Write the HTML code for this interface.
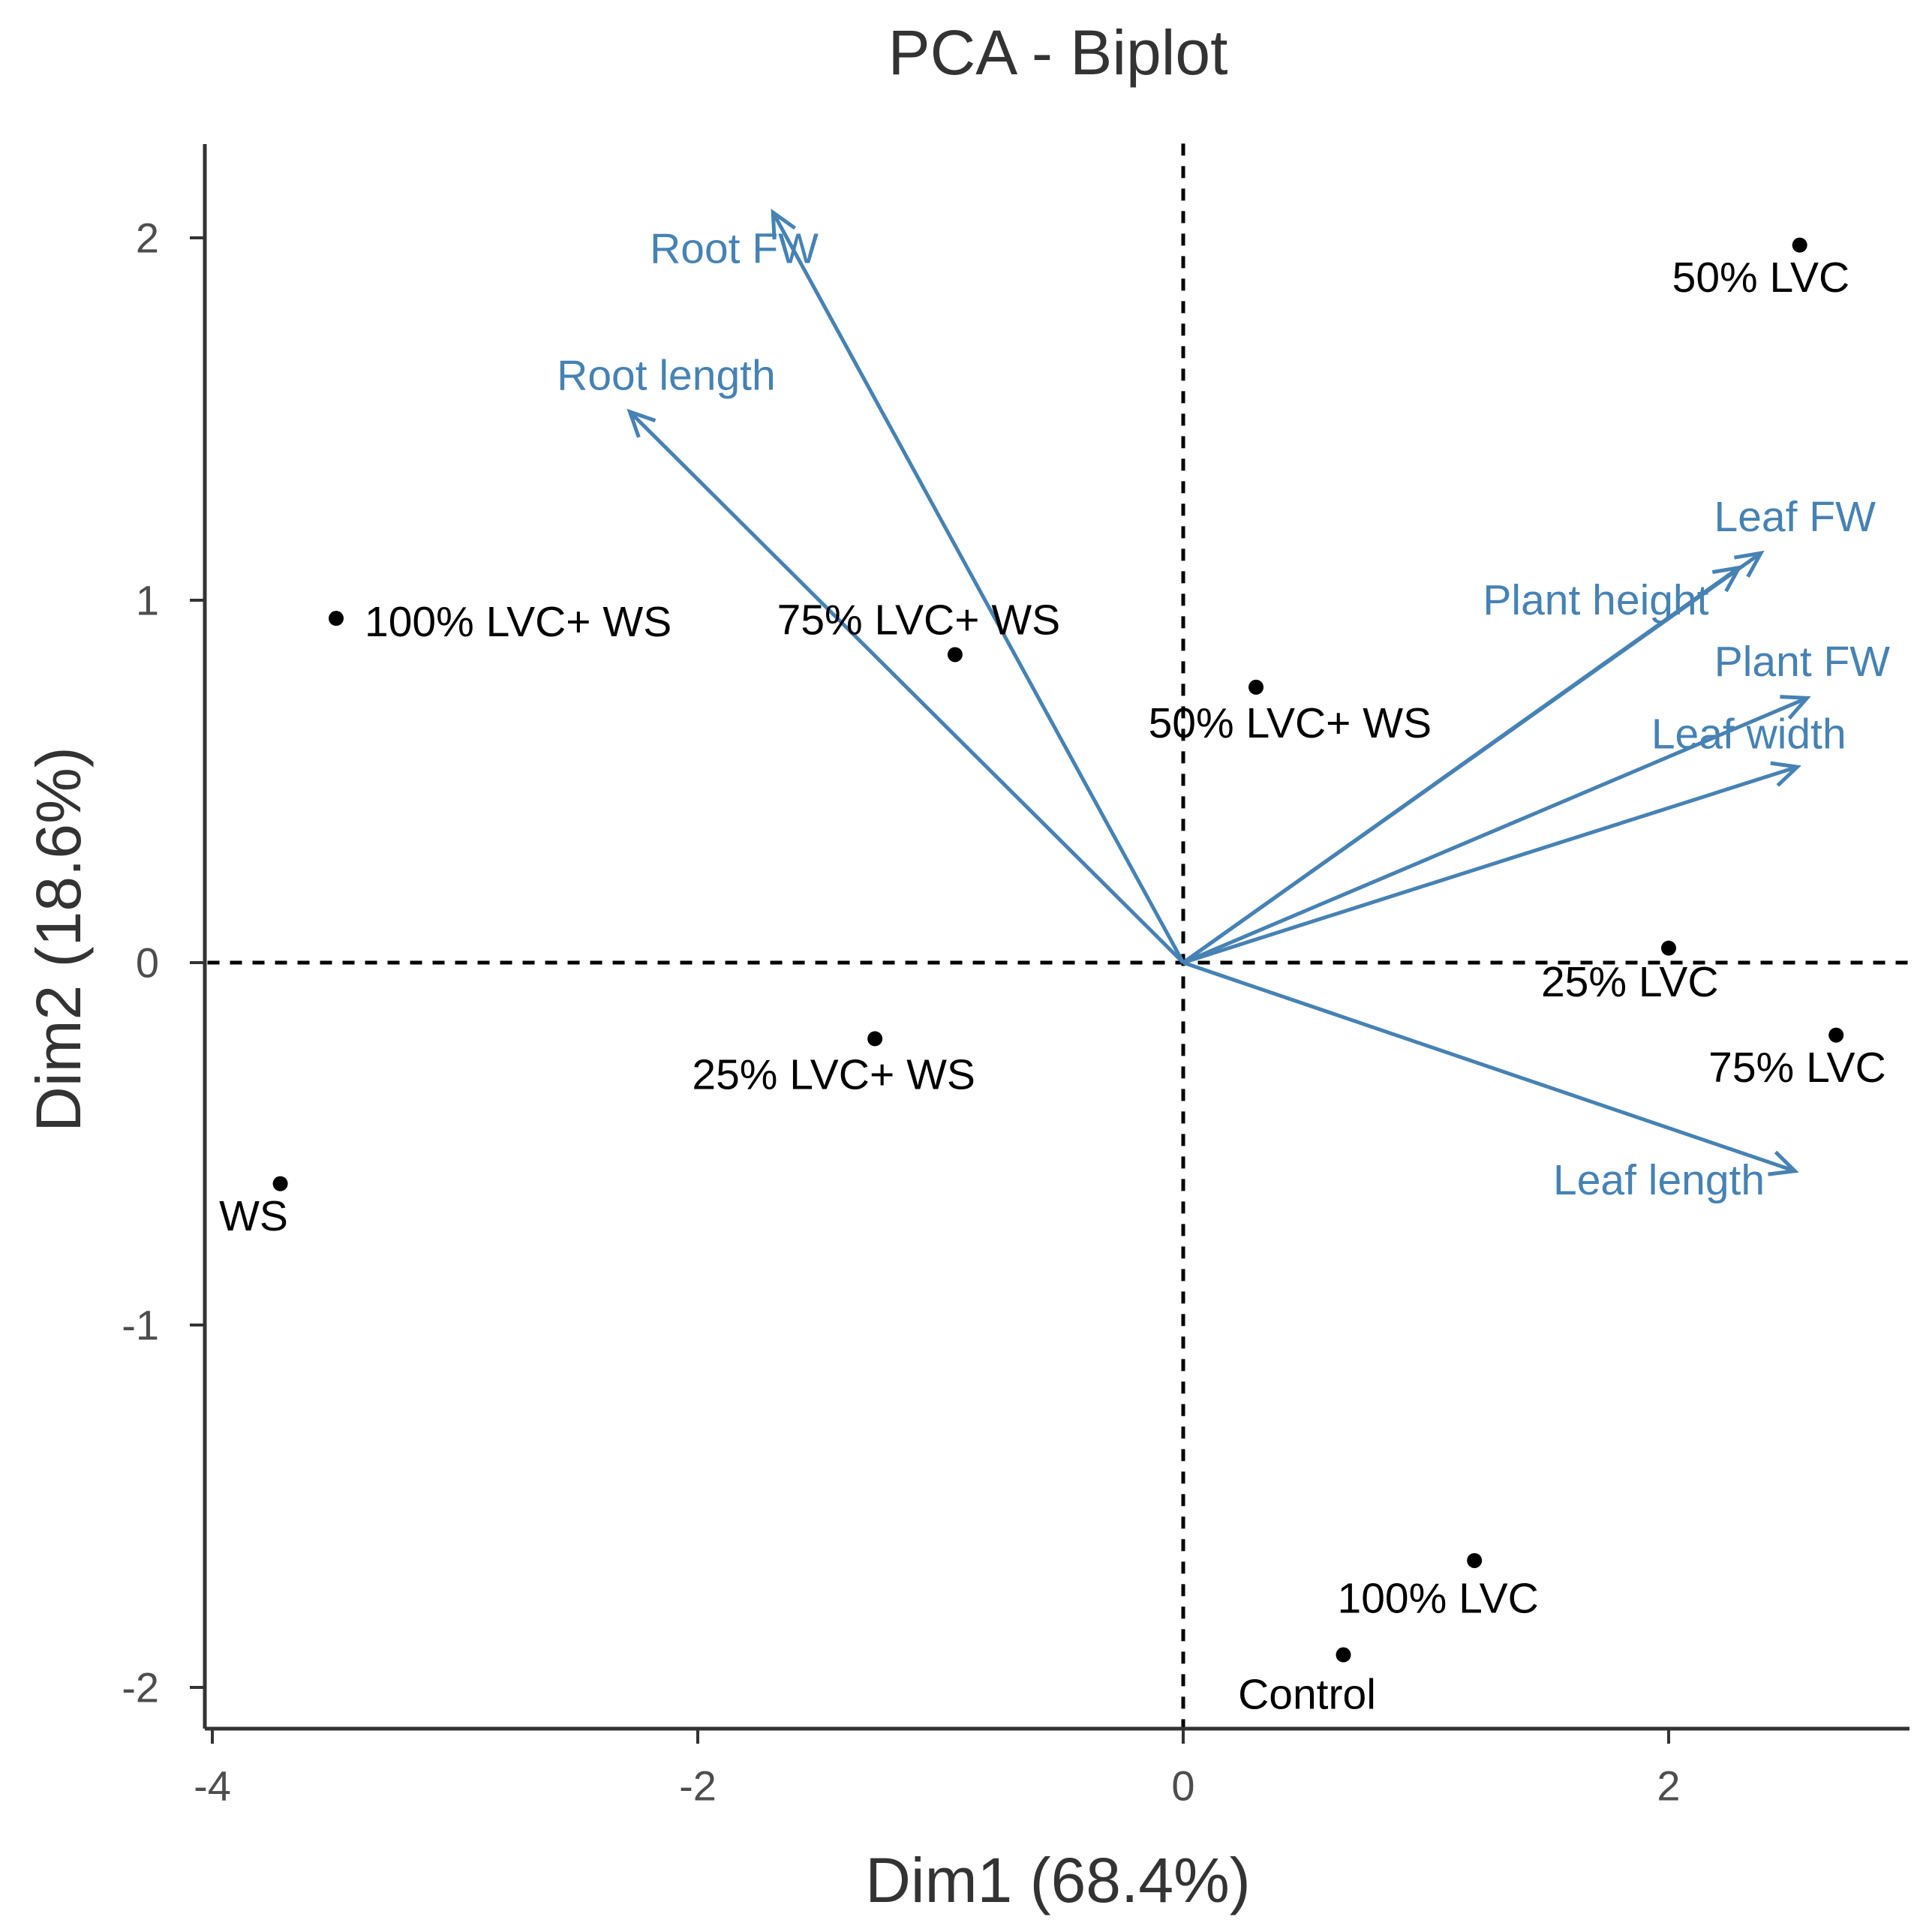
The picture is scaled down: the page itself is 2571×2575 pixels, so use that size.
<!DOCTYPE html>
<html><head><meta charset="utf-8"><style>
html,body{margin:0;padding:0;background:#fff}
svg{display:block;font-family:"Liberation Sans",Arial,sans-serif}
</style></head><body>
<svg id="chart" width="2571" height="2575" viewBox="0 0 2571 2575" xmlns="http://www.w3.org/2000/svg">
<text x="1410" y="70" text-anchor="middle" dominant-baseline="central" font-size="84" fill="#333">PCA - Biplot</text>
<g id="grid"></g>
<g id="arrows"></g>
<g id="points"></g>
<g id="axes"></g>
</svg>
<script>
const pointNames = ["50% LVC","100% LVC+ WS","75% LVC+ WS","50% LVC+ WS","25% LVC","75% LVC","25% LVC+ WS","WS","100% LVC","Control"];
const pointX = [2.54,-3.49,-0.94,0.30,2.00,2.69,-1.27,-3.72,1.20,0.66];
const pointY = [1.98,0.95,0.85,0.76,0.04,-0.20,-0.21,-0.61,-1.65,-1.91];
const pointLabelX = [2.38,-2.74,-1.09,0.44,1.84,2.53,-1.44,-3.83,1.05,0.51];
const pointLabelY = [1.89,0.94,0.945,0.66,-0.054,-0.29,-0.31,-0.70,-1.755,-2.02];
const varNames = ["Root FW","Root length","Leaf FW","Plant height","Plant FW","Leaf width","Leaf length"];
const varX = [-1.69,-2.28,2.38,2.29,2.57,2.53,2.52];
const varY = [2.07,1.52,1.13,1.09,0.73,0.54,-0.575];
const varLabelX = [-1.85,-2.13,2.52,1.70,2.55,2.33,1.96];
const varLabelY = [1.97,1.62,1.23,1.00,0.83,0.63,-0.60];
const xTicks = [-4,-2,0,2];
const yTicks = [-2,-1,0,1,2];

const X0=1577, XU=323.5, Y0=1283, YU=483;
const sx = v => X0 + v*XU;
const sy = v => Y0 - v*YU;
const xMin=-4.02, xMax=2.99, yMin=-2.11, yMax=2.26;
const NS="http://www.w3.org/2000/svg";
function mk(tag, attrs, parent){const e=document.createElementNS(NS,tag);for(const k in attrs)e.setAttribute(k,attrs[k]);parent.appendChild(e);return e;}

const grid=document.getElementById('grid');
let hl=mk('line',{x1:sx(xMin),x2:sx(xMax),y1:sy(0),y2:sy(0),stroke:'#000','stroke-width':5,'stroke-dasharray':'16,14'},grid);


let vl=mk('line',{x1:sx(0),x2:sx(0),y1:sy(yMax),y2:sy(yMin),stroke:'#000','stroke-width':5,'stroke-dasharray':'16,14'},grid);



const ar=document.getElementById('arrows');
varNames.forEach((n,i)=>{
  const x1=sx(0),y1=sy(0),x2=sx(varX[i]),y2=sy(varY[i]);
  const g=mk('g',{},ar);
  
  
  mk('line',{x1,y1,x2,y2,stroke:'#4682B4','stroke-width':5},g);
  const a=Math.atan2(y2-y1,x2-x1), L=36, s=0.45;
  const p1=[x2-L*Math.cos(a-s),y2-L*Math.sin(a-s)], p2=[x2-L*Math.cos(a+s),y2-L*Math.sin(a+s)];
  mk('polyline',{points:`${p1[0]},${p1[1]} ${x2},${y2} ${p2[0]},${p2[1]}`,fill:'none',stroke:'#4682B4','stroke-width':5},g);
  const t=mk('text',{x:sx(varLabelX[i]),y:sy(varLabelY[i]),'text-anchor':'middle','dominant-baseline':'central','font-size':57,fill:'#4682B4'},ar);
  t.textContent=n;
  
  
});

const pg=document.getElementById('points');
pointNames.forEach((n,i)=>{
  const c=mk('circle',{cx:sx(pointX[i]),cy:sy(pointY[i]),r:10,fill:'#000'},pg);
  
  
  const t=mk('text',{x:sx(pointLabelX[i]),y:sy(pointLabelY[i]),'text-anchor':'middle','dominant-baseline':'central','font-size':57,fill:'#000'},pg);
  t.textContent=n;
  
  
});

const ax=document.getElementById('axes');
let xa=mk('line',{x1:273,x2:2545,y1:2304,y2:2304,stroke:'#333','stroke-width':5},ax);


let ya=mk('line',{x1:273,x2:273,y1:192,y2:2304,stroke:'#333','stroke-width':5},ax);


xTicks.forEach(v=>{
  mk('line',{x1:sx(v),x2:sx(v),y1:2304,y2:2324,stroke:'#333','stroke-width':4},ax);
  const t=mk('text',{x:sx(v),y:2380,'text-anchor':'middle','dominant-baseline':'central','font-size':56,fill:'#4d4d4d'},ax);
  t.textContent=v;
  
  
});
yTicks.forEach(v=>{
  mk('line',{x1:253,x2:273,y1:sy(v),y2:sy(v),stroke:'#333','stroke-width':4},ax);
  const t=mk('text',{x:212,y:sy(v),'text-anchor':'end','dominant-baseline':'central','font-size':56,fill:'#4d4d4d'},ax);
  t.textContent=v;
  
  
});
let xt=mk('text',{x:1410,y:2506,'text-anchor':'middle','dominant-baseline':'central','font-size':84,fill:'#333'},ax);
xt.textContent='Dim1 (68.4%)';


let yt=mk('text',{x:78,y:1252,'text-anchor':'middle','dominant-baseline':'central','font-size':84,fill:'#333',transform:'rotate(-90 78 1252)'},ax);
yt.textContent='Dim2 (18.6%)';


</script>
</body></html>
